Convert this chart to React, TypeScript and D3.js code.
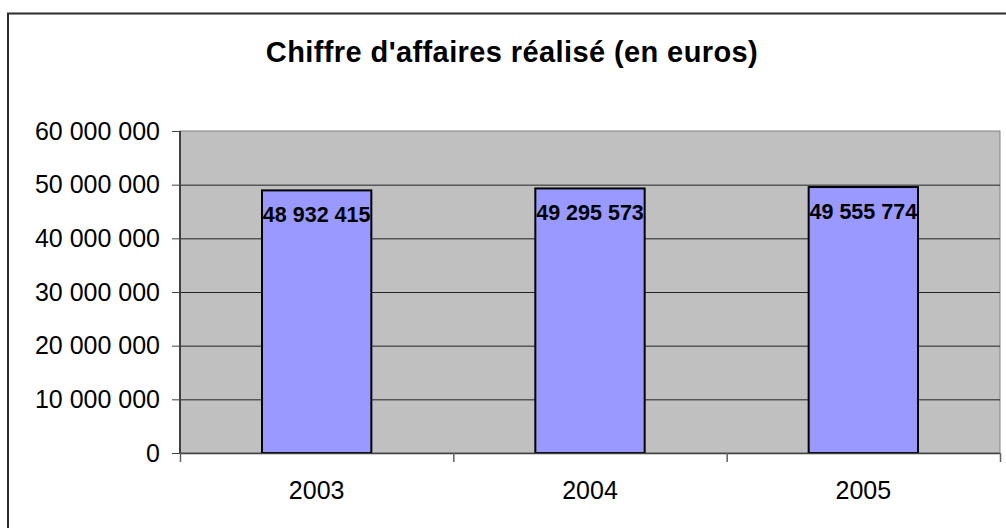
import React from "react";
import * as d3 from "d3";

// chart data
const years = ["2003", "2004", "2005"];
const revenue = [48932415, 49295573, 49555774];
const yTicks = [0, 10000000, 20000000, 30000000, 40000000, 50000000, 60000000];
const title = "Chiffre d'affaires réalisé (en euros)";

const W = 1006;
const H = 528;
const FONT = "'Liberation Sans', Arial, sans-serif";

// plot area bounds
const plot = { left: 180, right: 1000, top: 131, bottom: 453 };

const frFormat = d3.formatLocale({
    decimal: ",",
    thousands: " ",
    grouping: [3],
    currency: ["", " €"],
}).format(",d");

export default function App() {
    const x = d3.scaleBand<string>()
        .domain(years)
        .range([plot.left, plot.right])
        .padding(0);

    const y = d3.scaleLinear()
        .domain([0, 60000000])
        .range([plot.bottom, plot.top]);

    const barW = x.bandwidth() * 0.4;
    // category boundaries for the x ticks
    const xTickPos = years.map((d) => x(d)!).concat([plot.right]);

    return (
        <svg width={W} height={H} style={{ position: "absolute", left: 0, top: 0, background: "#fff" }}>
            {/* outer chart frame */}
            <rect x={8} y={13.5} width={W} height={H} fill="none" stroke="#2b2b2b" strokeWidth={2} />

            <text x={512} y={62} textAnchor="middle" fontFamily={FONT} fontWeight="bold" fontSize={29} letterSpacing={0.4}>
                {title}
            </text>

            {/* plot background */}
            <rect x={plot.left} y={plot.top} width={plot.right - plot.left} height={plot.bottom - plot.top}
                fill="#c0c0c0" stroke="#808080" strokeWidth={1} />

            {/* gridlines */}
            {yTicks.filter((t) => t > 0 && t < 60000000).map((t) => (
                <line key={"g" + t} x1={plot.left} x2={plot.right} y1={y(t) + 0.5} y2={y(t) + 0.5} stroke="#222" strokeWidth={1} />
            ))}

            {/* bars */}
            {years.map((yr, i) => {
                const cx = x(yr)! + x.bandwidth() / 2;
                return (
                    <g key={yr}>
                        <rect x={cx - barW / 2} y={y(revenue[i])} width={barW} height={y(0) - y(revenue[i])}
                            fill="#9999ff" stroke="#000" strokeWidth={2} />
                        <text x={cx} y={y(revenue[i]) + 32} textAnchor="middle" fontFamily={FONT}
                            fontWeight="bold" fontSize={21.5}>
                            {frFormat(revenue[i])}
                        </text>
                    </g>
                );
            })}

            {/* y axis */}
            <line x1={plot.left} x2={plot.left} y1={plot.top} y2={plot.bottom} stroke="#404040" strokeWidth={2} />
            {yTicks.map((t) => (
                <g key={"y" + t}>
                    <line x1={plot.left - 8} x2={plot.left} y1={y(t) + 0.5} y2={y(t) + 0.5} stroke="#404040" strokeWidth={1} />
                    <text x={160} y={y(t)} dy="0.35em" textAnchor="end" fontFamily={FONT} fontSize={25}>
                        {frFormat(t)}
                    </text>
                </g>
            ))}

            {/* x axis */}
            <line x1={plot.left} x2={plot.right} y1={plot.bottom + 0.5} y2={plot.bottom + 0.5} stroke="#404040" strokeWidth={1.5} />
            {xTickPos.map((p, i) => (
                <line key={"xt" + i} x1={p + 0.5} x2={p + 0.5} y1={plot.bottom} y2={plot.bottom + 9} stroke="#606060" strokeWidth={1.5} />
            ))}
            {years.map((yr) => (
                <text key={"xl" + yr} x={x(yr)! + x.bandwidth() / 2} y={499} textAnchor="middle" fontFamily={FONT} fontSize={25}>
                    {yr}
                </text>
            ))}
        </svg>
    );
}
